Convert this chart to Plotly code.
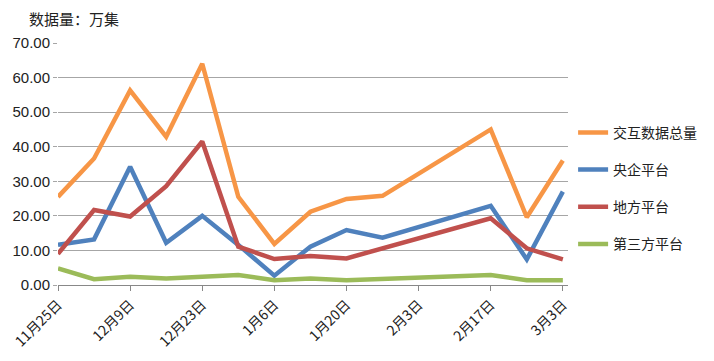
import plotly.graph_objects as go

dates = ["2019-11-25", "2019-12-02", "2019-12-09", "2019-12-16", "2019-12-23", "2019-12-30",
         "2020-01-06", "2020-01-13", "2020-01-20", "2020-01-27", "2020-02-17", "2020-02-24", "2020-03-02"]
total = [25.5, 36.6, 56.3, 42.9, 64.0, 25.5, 11.9, 21.2, 24.9, 25.8, 45.0, 19.6, 36.0]
central = [11.6, 13.2, 34.2, 12.2, 20.0, 11.6, 2.7, 11.1, 15.9, 13.7, 22.9, 7.4, 27.0]
local = [9.0, 21.7, 19.8, 28.6, 41.5, 11.1, 7.5, 8.4, 7.7, 10.6, 19.3, 10.6, 7.4]
third = [4.8, 1.7, 2.4, 1.9, 2.4, 2.9, 1.4, 1.9, 1.4, 1.7, 2.9, 1.4, 1.4]

series_names = ["交互数据总量", "央企平台", "地方平台", "第三方平台"]
series_colors = ["#F79646", "#4F81BD", "#C0504D", "#9BBB59"]

tick_vals = ["2019-11-25", "2019-12-09", "2019-12-23", "2020-01-06", "2020-01-20",
             "2020-02-03", "2020-02-17", "2020-03-02"]
tick_text = ["11月25日", "12月9日", "12月23日", "1月6日", "1月20日", "2月3日", "2月17日", "3月3日"]
y_ticks = [0, 10, 20, 30, 40, 50, 60, 70]

FONT = "Liberation Sans, Noto Sans CJK SC, sans-serif"

fig = go.Figure()
for i, (name, vals, col) in enumerate(zip(series_names, [total, central, local, third], series_colors)):
    fig.add_trace(go.Scatter(x=dates, y=vals, name=name, mode="lines",
                             line=dict(color=col, width=4.5), legendgroup=str(i)))

fig.update_layout(
    width=706, height=353,
    margin=dict(l=50, r=146, t=35, b=76, autoexpand=False),
    paper_bgcolor="white", plot_bgcolor="white",
    font=dict(family=FONT, size=13, color="#222"),
    showlegend=True,
    legend=dict(x=1.01, xanchor="left", y=0.695, yanchor="top",
                font=dict(family="Noto Sans CJK SC", size=14, color="#222"),
                tracegroupgap=16, itemwidth=30, bgcolor="rgba(0,0,0,0)"),
    annotations=[dict(text="数据量：万集", xref="paper", yref="paper", x=-0.06, y=1.0,
                      xanchor="left", yanchor="bottom", yshift=12, showarrow=False,
                      font=dict(family="Noto Sans CJK SC", size=15, color="#222"))],
)
fig.update_xaxes(type="date", range=["2019-11-25", "2020-03-03"],
                 tickvals=tick_vals, ticktext=tick_text, tickangle=-45,
                 showgrid=False, showline=True, linecolor="#888", linewidth=1,
                 ticks="outside", ticklen=5, tickcolor="#888",
                 tickfont=dict(family="Noto Sans CJK SC", size=14, color="#222"))
fig.update_yaxes(range=[0, 70], tickvals=y_ticks, tickformat=".2f",
                 showgrid=True, gridcolor="#a6a6a6", gridwidth=1,
                 showline=False, zeroline=False,
                 ticks="outside", ticklen=4, tickcolor="#a6a6a6",
                 tickfont=dict(family=FONT, size=15, color="#222"))

fig.write_html("out.html")
